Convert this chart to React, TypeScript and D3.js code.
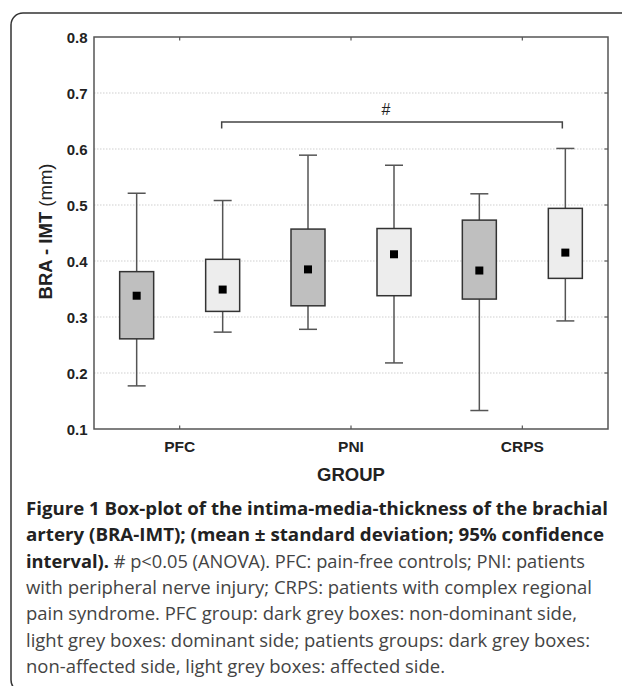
import React from "react";
import * as d3 from "d3";

const groups = ["PFC", "PNI", "CRPS"];
const sides = ["dark", "light"];
// order: PFC dark, PFC light, PNI dark, PNI light, CRPS dark, CRPS light
const means = [0.338, 0.349, 0.385, 0.412, 0.383, 0.415];
const boxLow = [0.261, 0.31, 0.32, 0.338, 0.332, 0.369];
const boxHigh = [0.381, 0.403, 0.457, 0.458, 0.473, 0.494];
const whiskerLow = [0.177, 0.273, 0.278, 0.218, 0.133, 0.293];
const whiskerHigh = [0.521, 0.508, 0.589, 0.571, 0.52, 0.601];
const yTicks = [0.1, 0.2, 0.3, 0.4, 0.5, 0.6, 0.7, 0.8];
const sigFrom = "PFC";
const sigTo = "CRPS";
const sigLevel = 0.648;
const sigLabel = "#";

const captionLines: { bold: string; normal: string; width: number }[] = [
  { bold: "Figure 1 Box-plot of the intima-media-thickness of the brachial", normal: "", width: 582 },
  { bold: "artery (BRA-IMT); (mean \u00b1 standard deviation; 95% confidence", normal: "", width: 578 },
  { bold: "interval).", normal: " # p<0.05 (ANOVA). PFC: pain-free controls; PNI: patients", width: 559 },
  { bold: "", normal: "with peripheral nerve injury; CRPS: patients with complex regional", width: 566 },
  { bold: "", normal: "pain syndrome. PFC group: dark grey boxes: non-dominant side,", width: 551 },
  { bold: "", normal: "light grey boxes: dominant side; patients groups: dark grey boxes:", width: 564 },
  { bold: "", normal: "non-affected side, light grey boxes: affected side.", width: 419 },
];

const W = 622;
const H = 686;
const plot = { left: 94, right: 608, top: 37, bottom: 429 };

export default function App() {
  const x = d3.scaleBand<string>().domain(groups).range([plot.left, plot.right]);
  const y = d3.scaleLinear().domain([0.1, 0.8]).range([plot.bottom, plot.top]);
  const sideOffset = d3.scaleOrdinal<string, number>().domain(sides).range([-43, 43]);
  const fills: Record<string, string> = { dark: "#bfbfbf", light: "#ededed" };
  const center = (g: string) => (x(g) as number) + x.bandwidth() / 2;
  const boxW = 34;
  const capW = 18;
  const ms = 8;

  const items = groups.flatMap((g, gi) =>
    sides.map((s, si) => {
      const i = gi * 2 + si;
      return {
        key: g + s,
        cx: center(g) + sideOffset(s),
        fill: fills[s],
        mean: means[i],
        lo: boxLow[i],
        hi: boxHigh[i],
        wlo: whiskerLow[i],
        whi: whiskerHigh[i],
      };
    })
  );

  const sx1 = center(sigFrom) + sideOffset("light") - 1;
  const sx2 = center(sigTo) + sideOffset("light") - 3;
  const sy = y(sigLevel);

  const axisColor = "#555";
  const font = "'Liberation Sans', Arial, sans-serif";
  const capFont = "'Open Sans', 'Noto Sans', sans-serif";

  return (
    <svg
      width={W}
      height={H}
      style={{ position: "absolute", left: 0, top: 0, background: "#fff", overflow: "hidden" }}
    >
      {/* outer frame */}
      <rect x={11} y={13} width={700} height={679} rx={12} ry={12} fill="none" stroke="#333" strokeWidth={1.5} />

      {/* grid lines */}
      {yTicks.slice(1, -1).map((t) => (
        <line key={"g" + t} x1={plot.left} x2={plot.right} y1={y(t)} y2={y(t)} stroke="#cfcfcf" strokeWidth={1} strokeDasharray="1.5,1.5" />
      ))}

      {/* significance bracket */}
      <path d={`M${sx1},${sy + 6.5}V${sy}H${sx2}V${sy + 6.5}`} fill="none" stroke="#444" strokeWidth={1.5} />
      <text x={(center("PNI") + 35)} y={sy - 7} textAnchor="middle" fontFamily={font} fontSize={16} fill="#222">
        {sigLabel}
      </text>

      {/* boxes */}
      {items.map((d) => (
        <g key={d.key}>
          <line x1={d.cx} x2={d.cx} y1={y(d.whi)} y2={y(d.hi)} stroke="#555" strokeWidth={1.5} />
          <line x1={d.cx} x2={d.cx} y1={y(d.lo)} y2={y(d.wlo)} stroke="#555" strokeWidth={1.5} />
          <line x1={d.cx - capW / 2} x2={d.cx + capW / 2} y1={y(d.whi)} y2={y(d.whi)} stroke="#555" strokeWidth={1.5} />
          <line x1={d.cx - capW / 2} x2={d.cx + capW / 2} y1={y(d.wlo)} y2={y(d.wlo)} stroke="#555" strokeWidth={1.5} />
          <rect x={d.cx - boxW / 2} y={y(d.hi)} width={boxW} height={y(d.lo) - y(d.hi)} fill={d.fill} stroke="#333" strokeWidth={1.5} />
          <rect x={d.cx - ms / 2} y={y(d.mean) - ms / 2} width={ms} height={ms} fill="#000" />
        </g>
      ))}

      {/* axes frame */}
      <rect x={plot.left} y={plot.top} width={plot.right - plot.left} height={plot.bottom - plot.top} fill="none" stroke={axisColor} strokeWidth={1.5} />

      {/* category ticks top & bottom */}
      {groups.map((g) => (
        <g key={"t" + g}>
          <line x1={center(g)} x2={center(g)} y1={plot.top} y2={plot.top + 3.5} stroke={axisColor} strokeWidth={1.2} />
          <line x1={center(g)} x2={center(g)} y1={plot.bottom} y2={plot.bottom - 3.5} stroke={axisColor} strokeWidth={1.2} />
          <text x={center(g)} y={452} textAnchor="middle" fontFamily={font} fontWeight="bold" fontSize={15.5} fill="#222">
            {g}
          </text>
        </g>
      ))}

      {/* right ticks */}
      {yTicks.slice(1, -1).map((t) => (
        <line key={"r" + t} x1={plot.right} x2={plot.right - 3.5} y1={y(t)} y2={y(t)} stroke={axisColor} strokeWidth={1.2} />
      ))}

      {/* y tick labels */}
      {yTicks.map((t) => (
        <text key={"l" + t} x={87.5} y={y(t) + 6} textAnchor="end" fontFamily={font} fontWeight="bold" fontSize={15} fill="#222">
          {d3.format(".1f")(t)}
        </text>
      ))}

      {/* axis titles */}
      <text transform={`translate(52,${(plot.top + plot.bottom) / 2 - 1.5}) rotate(-90)`} textAnchor="middle" fontFamily={font} fontSize={18.5} fill="#222">
        <tspan fontWeight="bold">BRA - IMT</tspan>
        <tspan> (mm)</tspan>
      </text>
      <text x={center("PNI")} y={481} textAnchor="middle" fontFamily={font} fontWeight="bold" fontSize={18.5} fill="#222">
        GROUP
      </text>

      {/* caption */}
      {captionLines.map((l, i) => (
        <text key={"c" + i} x={26} y={515 + i * 26.3} fontFamily={capFont} fontSize={18} textLength={l.width} lengthAdjust="spacingAndGlyphs">
          {l.bold && (
            <tspan fontWeight="bold" fill="#222">
              {l.bold}
            </tspan>
          )}
          {l.normal && <tspan fill="#444">{l.normal}</tspan>}
        </text>
      ))}
    </svg>
  );
}
